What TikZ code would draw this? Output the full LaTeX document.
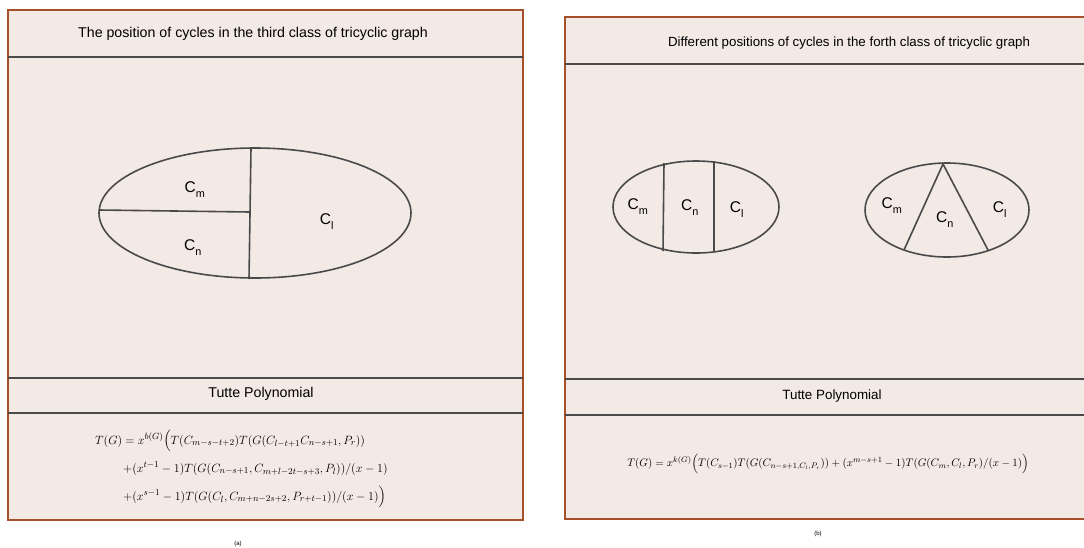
\documentclass[tikz,border=0pt]{standalone}
\usepackage{fontspec}
\usepackage{amsmath}
\newfontfamily\arialike{Liberation Sans}
\usetikzlibrary{positioning}
\definecolor{panelfill}{HTML}{F3E9E5}
\definecolor{framebrown}{HTML}{A5502A}
\definecolor{rulegray}{HTML}{4A4A4A}
\tikzset{line width=1.2pt,
  every node/.style={font=\arialike},
  panel/.style={draw=framebrown,fill=panelfill,line width=2pt},
  divider/.style={draw=rulegray,line width=1.6pt},
  cycle/.style={draw=rulegray,line width=1.6pt},
  cyclab/.style={font=\arialike\fontsize{15.5}{18}\selectfont},
  heading/.style={font=\arialike\fontsize{14.2}{17}\selectfont},
  formula/.style={font=\fontsize{12.6}{15}\selectfont,inner sep=0pt},
  caption/.style={font=\arialike\fontsize{6}{7}\selectfont}}
\newcommand{\cyc}[1]{C\textsubscript{\raisebox{-0.5ex}{#1}}}

\begin{document}
\begin{tikzpicture}[x=1pt,y=-1pt]
\useasboundingbox (0,0) rectangle (1084,547);
\clip (0,0) rectangle (1084,547);
% panel (a)
\draw[panel] (8,10) rectangle (523,520);
\draw[divider] (8,57) -- (523,57);
\draw[divider] (8,378) -- (523,378);
\draw[divider] (8,413) -- (523,413);
\node[heading] (titleA) at (253,34) {The position of cycles in the third class of tricyclic graph};
\node[heading] (tutteA) at (261,394) {Tutte Polynomial};
\draw[cycle] (255,213) ellipse [x radius=156, y radius=65];
\draw[cycle] (251,148) -- (249,279);
\draw[cycle] (99,210) -- (250,212);
\node[cyclab] (cmA) at (195,190) {\cyc{m}};
\node[cyclab] (cnA) at (193,248) {\cyc{n}};
\node[cyclab] (clA) at (327,222) {\cyc{l}};
\node[formula,anchor=base west] (eqA1) at (95,444)
  {$T(G)=x^{b(G)}\Big(T(C_{m-s-t+2})T(G(C_{l-t+1}C_{n-s+1},P_r))$};
\node[formula,anchor=base west] (eqA2) at (123,472)
  {$+(x^{t-1}-1)T(G(C_{n-s+1},C_{m+l-2t-s+3},P_l))/(x-1)$};
\node[formula,anchor=base west] (eqA3) at (123,500)
  {$+(x^{s-1}-1)T(G(C_l,C_{m+n-2s+2},P_{r+t-1}))/(x-1)\Big)$};
\node[caption] (capA) at (238,544) {(a)};
% panel (b)
\draw[panel] (565,17) rectangle (1095,519);
\draw[divider] (565,64) -- (1095,64);
\draw[divider] (565,379) -- (1095,379);
\draw[divider] (565,415) -- (1095,415);
\node[heading,font=\arialike\fontsize{13.3}{16}\selectfont] (titleB) at (849,43) {Different positions of cycles in the forth class of tricyclic graph};
\node[heading,font=\arialike\fontsize{13.4}{16}\selectfont] (tutteB) at (832,396) {Tutte Polynomial};
% first drawing: parallel chords
\draw[cycle] (696,207) ellipse [x radius=83, y radius=46];
\draw[cycle] (664,163) -- (663,251);
\draw[cycle] (714,161) -- (714,252);
\node[cyclab] (cmB) at (638,207) {\cyc{m}};
\node[cyclab] (cnB) at (690,208) {\cyc{n}};
\node[cyclab] (clB) at (737,210) {\cyc{l}};
% second drawing: triangle
\draw[cycle] (947,210) ellipse [x radius=82, y radius=47];
\draw[cycle] (904,250) -- (943,164) -- (988,250);
\node[cyclab] (cmC) at (892,206) {\cyc{m}};
\node[cyclab] (cnC) at (945,220) {\cyc{n}};
\node[cyclab] (clC) at (1000,210) {\cyc{l}};
\node[formula,font=\fontsize{10.8}{13}\selectfont] (eqB) at (828,464)
  {$T(G)=x^{k(G)}\Big(T(C_{s-1})T(G(C_{n-s+1,C_l,P_r}))+(x^{m-s+1}-1)T(G(C_m,C_l,P_r)/(x-1)\Big)$};
\node[caption] (capB) at (818,534) {(b)};
\end{tikzpicture}
\end{document}
